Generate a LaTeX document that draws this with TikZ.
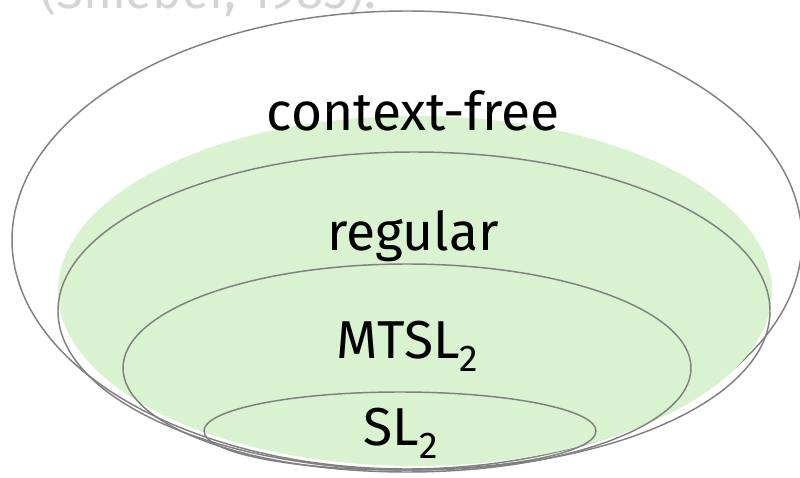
\documentclass[tikz,border=0pt]{standalone}
\usepackage{fontspec}
\setmainfont{Fira Sans}
\usepackage{xcolor}
\usepackage{tikz}
\definecolor{setgreen}{RGB}{217, 242, 208}
\definecolor{setline}{RGB}{128, 128, 128}
\definecolor{citegray}{RGB}{212, 212, 212}
\tikzstyle{classline} = [draw=setline, line width=1.1pt]
\tikzstyle{classlabel} = [inner sep=0pt, anchor=base, font=\fontsize{40}{45}\selectfont]

\begin{document}
\begin{tikzpicture}[x=0.75pt, y=-0.75pt]
    \useasboundingbox (0,0) rectangle (800,478);
    \clip (0,0) rectangle (800,478);
    % Citation, cut off at the top
    \node[classlabel, anchor=base west, text=citegray, font=\fontsize{37}{42}\selectfont] (cite) at (40,9) {(Shieber, 1985).};
    
    % Context-free
    \draw[classline] (407,240) ellipse [x radius=395, y radius=229];
    
    % Green area
    \fill[setgreen] (415,291) ellipse [x radius=357, y radius=175];
    
    % Regular, MTSL2, SL2
    \draw[classline] (414,311) ellipse [x radius=356, y radius=159];
    \draw[classline] (407,368) ellipse [x radius=284, y radius=104];
    \draw[classline] (400,431) ellipse [x radius=196, y radius=39];
    
    % Labels
    \node[classlabel] (cf) at (413,131) {context-free};
    \node[classlabel] (reg) at (413,250) {regular};
    \node[classlabel] (mtsl) at (408,358) {MTSL\textsubscript{2}};
    \node[classlabel] (sl) at (401,445) {SL\textsubscript{2}};
\end{tikzpicture}
\end{document}
